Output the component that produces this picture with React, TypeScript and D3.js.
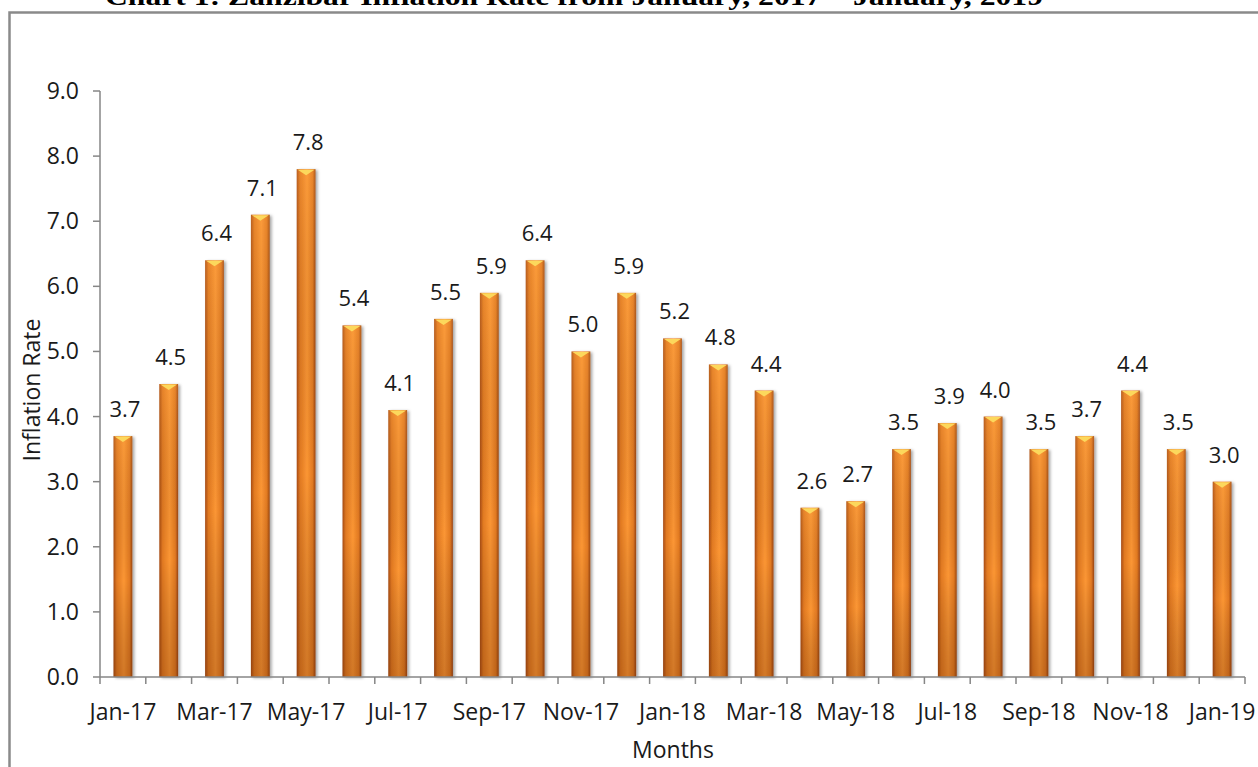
import * as d3 from 'd3';
import React from 'react';

// monthly inflation, Zanzibar
const months = [
  'Jan-17', 'Feb-17', 'Mar-17', 'Apr-17', 'May-17', 'Jun-17', 'Jul-17', 'Aug-17',
  'Sep-17', 'Oct-17', 'Nov-17', 'Dec-17', 'Jan-18', 'Feb-18', 'Mar-18', 'Apr-18',
  'May-18', 'Jun-18', 'Jul-18', 'Aug-18', 'Sep-18', 'Oct-18', 'Nov-18', 'Dec-18',
  'Jan-19',
];
const inflation = [
  3.7, 4.5, 6.4, 7.1, 7.8, 5.4, 4.1, 5.5, 5.9, 6.4, 5.0, 5.9, 5.2, 4.8, 4.4, 2.6,
  2.7, 3.5, 3.9, 4.0, 3.5, 3.7, 4.4, 3.5, 3.0,
];
const yTicks = [0, 1, 2, 3, 4, 5, 6, 7, 8, 9];

const title = 'Chart 1: Zanzibar Inflation Rate from January, 2017 \u2013 January, 2019';
const font = "'Open Sans', sans-serif";
const axisColor = '#868686';

export default function App() {
  const W = 1258;
  const H = 767;
  const left = 100;
  const right = 1245;
  const top = 91;
  const bottom = 677;

  const x = d3
    .scaleBand<string>()
    .domain(months)
    .range([left, right])
    .paddingInner(0.59)
    .paddingOuter(0.295);
  const y = d3.scaleLinear().domain([0, 9]).range([bottom, top]);
  const step = x.step();
  const bw = x.bandwidth();

  const boundaries = d3.range(months.length + 1).map(i => left + i * step);

  return (
    <svg
      width={W}
      height={H}
      style={{ position: 'absolute', left: 0, top: 0, background: '#fff' }}
    >
      <defs>
        <linearGradient id="barH" x1="0" x2="1" y1="0" y2="0">
          <stop offset="0%" stopColor="#a84c14" />
          <stop offset="18%" stopColor="#e27a22" />
          <stop offset="55%" stopColor="#fb9634" />
          <stop offset="85%" stopColor="#e27a22" />
          <stop offset="100%" stopColor="#9c4612" />
        </linearGradient>
        <linearGradient id="barV" x1="0" x2="0" y1="0" y2="1">
          <stop offset="0%" stopColor="#ffb050" stopOpacity={0.2} />
          <stop offset="60%" stopColor="#000" stopOpacity={0} />
          <stop offset="100%" stopColor="#5a2200" stopOpacity={0.25} />
        </linearGradient>
        <filter id="shadow" x="-30%" y="-5%" width="170%" height="115%">
          <feDropShadow dx="2" dy="1" stdDeviation="1.5" floodColor="#000" floodOpacity="0.35" />
        </filter>
      </defs>

      {/* outer frame */}
      <rect x={9.5} y={12.5} width={1280} height={800} fill="none" stroke="#8a8a8a" strokeWidth={2.5} />

      <text
        x={574}
        y={5}
        textAnchor="middle"
        fontFamily="'Liberation Serif', 'Times New Roman', serif"
        fontWeight="bold"
        fontSize={26}
        textLength={938}
        lengthAdjust="spacingAndGlyphs"
      >
        {title}
      </text>

      {/* y axis */}
      <line x1={left} x2={left} y1={top} y2={bottom} stroke={axisColor} strokeWidth={1.5} />
      {yTicks.map(t => (
        <g key={t}>
          <line x1={left - 7} x2={left} y1={y(t)} y2={y(t)} stroke={axisColor} strokeWidth={1.5} />
          <text
            x={79}
            y={y(t)}
            dy="0.35em"
            textAnchor="end"
            fontFamily={font}
            fontSize={23}
            fill="#1a1a1a"
          >
            {d3.format('.1f')(t)}
          </text>
        </g>
      ))}

      {/* bars */}
      {months.map((m, i) => {
        const bx = x(m) as number;
        const by = y(inflation[i]);
        const bh = bottom - by;
        return (
          <g key={m}>
            <g filter="url(#shadow)">
              <rect x={bx} y={by} width={bw} height={bh} fill="url(#barH)" />
            </g>
            <rect x={bx} y={by} width={bw} height={bh} fill="url(#barV)" />
            <path
              d={`M${bx + 1},${by + 0.5} L${bx + bw - 1},${by + 0.5} L${bx + bw / 2},${by + 6} Z`}
              fill="#fcd85c"
            />
            <text
              x={bx + bw / 2 + 2}
              y={by - 19}
              textAnchor="middle"
              fontFamily={font}
              fontSize={22}
              fill="#1a1a1a"
            >
              {d3.format('.1f')(inflation[i])}
            </text>
          </g>
        );
      })}

      {/* x axis */}
      <line x1={left} x2={right} y1={bottom} y2={bottom} stroke={axisColor} strokeWidth={1.5} />
      {boundaries.map((b, i) => (
        <line key={i} x1={b} x2={b} y1={bottom} y2={bottom + 7} stroke={axisColor} strokeWidth={1.5} />
      ))}
      {months.map((m, i) =>
        i % 2 === 0 ? (
          <text
            key={m}
            x={(x(m) as number) + bw / 2}
            y={720}
            textAnchor="middle"
            fontFamily={font}
            fontSize={23}
            fill="#1a1a1a"
          >
            {m}
          </text>
        ) : null
      )}

      <text x={673} y={758} textAnchor="middle" fontFamily={font} fontSize={23} fill="#1a1a1a">
        Months
      </text>
      <text
        transform="translate(40,390) rotate(-90)"
        textAnchor="middle"
        fontFamily={font}
        fontSize={23}
        fill="#1a1a1a"
      >
        Inflation Rate
      </text>
    </svg>
  );
}
